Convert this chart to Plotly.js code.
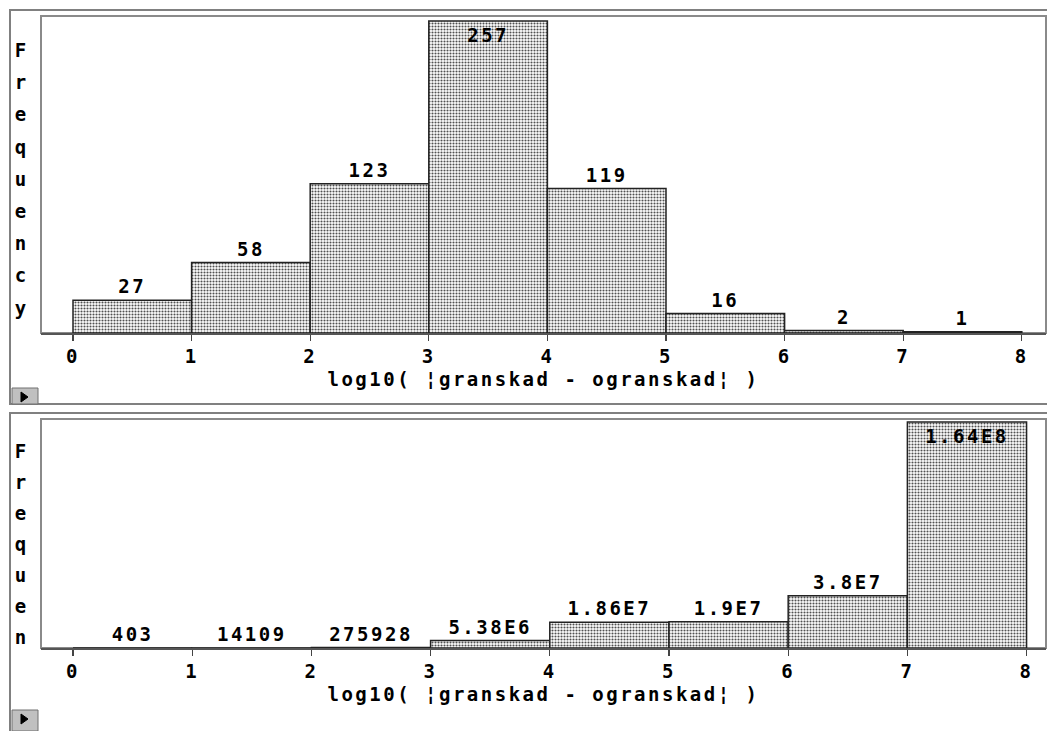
<!DOCTYPE html>
<html>
<head>
<meta charset="utf-8">
<script src="https://cdn.plot.ly/plotly-3.0.1.min.js"></script>
<style>
  html, body { margin: 0; padding: 0; background: #fff; }
  #chart { width: 1047px; height: 731px; }
  #chart .main-svg text { letter-spacing: 2.5px; }
</style>
</head>
<body>
<div id="chart"></div>
<script>
// ---- data ----
const binEdges = [0, 1, 2, 3, 4, 5, 6, 7, 8];
const topCounts = [27, 58, 123, 257, 119, 16, 2, 1];
const bottomCounts = [403, 14109, 275928, 5.38e6, 1.86e7, 1.9e7, 3.8e7, 1.64e8];
const tickValues = [0, 1, 2, 3, 4, 5, 6, 7, 8];
const tickLabels = ['0', '1', '2', '3', '4', '5', '6', '7', '8'];
const xTitleText = 'log10( ¦granskad - ogranskad¦ )';
const yTitleText = 'Frequency';

// ---- helpers ----
const W = 1047, H = 731;
const px = x => x / W;
const py = y => 1 - y / H;
const centers = binEdges.slice(0, -1).map((e, i) => (e + binEdges[i + 1]) / 2);
const widths = binEdges.slice(0, -1).map((e, i) => binEdges[i + 1] - e);
function fmt(v) {
  if (v < 1e6) return String(v);
  let [m, e] = v.toExponential().split('e');
  m = parseFloat(Number(m).toPrecision(3)).toString();
  return m + 'E' + parseInt(e, 10);
}
const FONT = 'DejaVu Sans Mono, monospace';
const textFont = {family: FONT, size: 19, weight: 'bold', color: '#000'};

function barTrace(counts, xa, ya) {
  const mx = Math.max(...counts);
  return {
    type: 'bar',
    x: centers, y: counts, width: widths,
    xaxis: xa, yaxis: ya,
    text: counts.map(fmt),
    textposition: counts.map(v => v === mx ? 'inside' : 'outside'),
    insidetextanchor: 'end',
    constraintext: 'none',
    cliponaxis: false,
    textfont: textFont,
    insidetextfont: textFont,
    outsidetextfont: textFont,
    marker: {
      color: '#ffffff',
      pattern: {shape: '.', size: 3, solidity: 0.4, fgcolor: '#505050', bgcolor: '#ffffff', fillmode: 'replace'},
      line: {color: '#222', width: 1.5}
    },
    hoverinfo: 'skip',
    showlegend: false
  };
}

function xAxis(range, anchor) {
  return {
    range: range, anchor: anchor,
    domain: [px(41), px(1046)],
    tickmode: 'array', tickvals: tickValues, ticktext: tickLabels,
    ticks: 'outside', ticklen: 6, tickwidth: 1.2, tickcolor: '#444',
    showline: true, linecolor: '#555', linewidth: 1.5,
    showgrid: false, zeroline: false, fixedrange: true,
    tickfont: {family: FONT, size: 19, weight: 'bold', color: '#000'},
    title: {text: xTitleText, standoff: 6, font: {family: FONT, size: 19, weight: 'bold', color: '#000'}},
    automargin: false
  };
}
function yAxis(range, domain, anchor) {
  return {
    range: range, domain: domain, anchor: anchor,
    showticklabels: false, ticks: '', showgrid: false, zeroline: false,
    showline: false, fixedrange: true
  };
}

// y-label stacks (letters down the left side)
function letterStack(plotTop, plotHeight, spacing, offset) {
  const n = Math.min(yTitleText.length, Math.floor(plotHeight / spacing));
  return yTitleText.slice(0, n).split('').map((ch, i) => ({
    text: ch, xref: 'paper', yref: 'paper',
    x: px(21), y: py(plotTop + offset + i * spacing),
    xanchor: 'center', yanchor: 'middle', showarrow: false,
    font: {family: FONT, size: 19, weight: 'bold', color: '#000'}
  }));
}

const topPlot = {top: 16, bottom: 333};
const botPlot = {top: 419, bottom: 648};

const frameLine = {color: '#808080', width: 2};
function button(y0, y1) {
  return [
    {type: 'rect', xref: 'paper', yref: 'paper', x0: px(12), x1: px(38), y0: py(y0), y1: py(y1),
     fillcolor: '#c0c0c0', line: {color: '#707070', width: 1}},
    {type: 'path', xref: 'paper', yref: 'paper',
     path: `M ${px(21)} ${py(y0 + 4)} L ${px(21)} ${py(y0 + 14)} L ${px(28)} ${py(y0 + 9)} Z`,
     fillcolor: '#000', line: {color: '#000', width: 1}}
  ];
}

const shapes = [
  // outer panel frames
  {type: 'rect', xref: 'paper', yref: 'paper', x0: px(10), x1: px(1060), y0: py(10), y1: py(404), line: frameLine, layer: 'below'},
  {type: 'rect', xref: 'paper', yref: 'paper', x0: px(10), x1: px(1060), y0: py(413), y1: py(745), line: frameLine, layer: 'below'},
  // plot-area frames
  {type: 'rect', xref: 'x domain', yref: 'y domain', x0: 0, x1: 1, y0: 0, y1: 1, line: {color: '#8a8a8a', width: 2}, layer: 'below'},
  {type: 'rect', xref: 'x2 domain', yref: 'y2 domain', x0: 0, x1: 1, y0: 0, y1: 1, line: {color: '#8a8a8a', width: 2}, layer: 'below'},
  ...button(388, 404),
  ...button(710, 731)
];

const layout = {
  width: W, height: H,
  margin: {l: 0, r: 0, t: 0, b: 0, pad: 0},
  paper_bgcolor: '#ffffff', plot_bgcolor: '#ffffff',
  bargap: 0,
  showlegend: false,
  xaxis: xAxis([-0.2698, 8.204], 'y'),
  yaxis: yAxis([0, 261.1], [py(topPlot.bottom), py(topPlot.top)], 'x'),
  xaxis2: xAxis([-0.2685, 8.163], 'y2'),
  yaxis2: yAxis([0, 1.662e8], [py(botPlot.bottom), py(botPlot.top)], 'x2'),
  shapes: shapes,
  annotations: [
    ...letterStack(topPlot.top, topPlot.bottom - topPlot.top, 32.2, 34),
    ...letterStack(botPlot.top, botPlot.bottom - botPlot.top, 31, 32)
  ]
};

Plotly.newPlot('chart', [barTrace(topCounts, 'x', 'y'), barTrace(bottomCounts, 'x2', 'y2')], layout,
  {displayModeBar: false, staticPlot: true});
</script>
</body>
</html>
